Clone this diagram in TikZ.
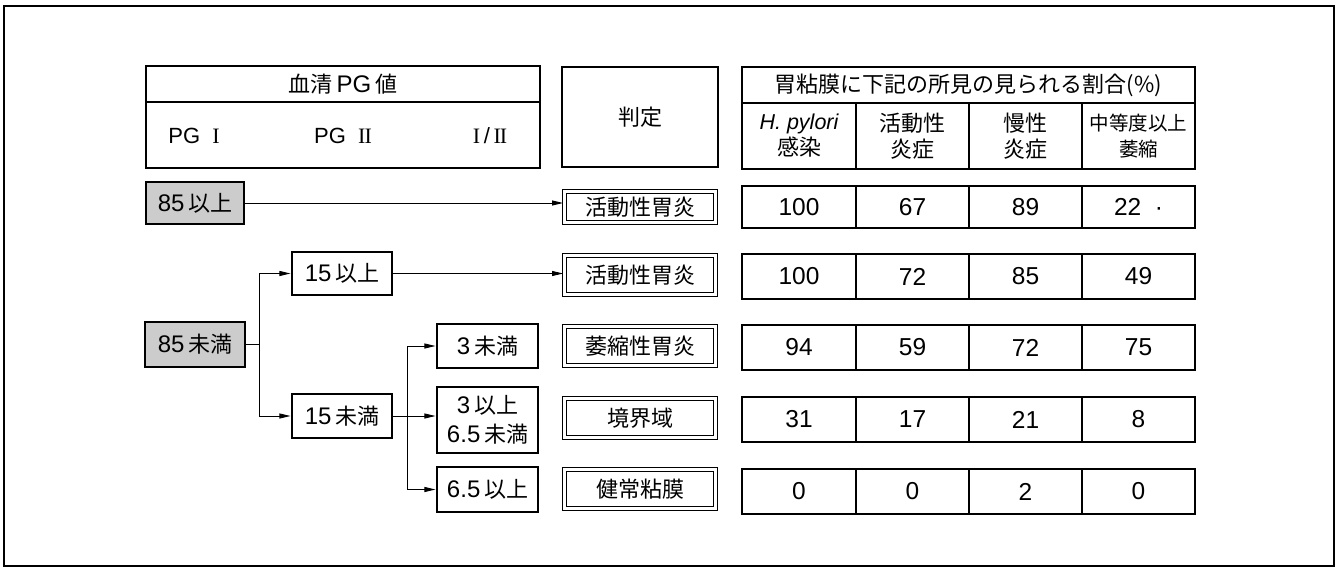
\documentclass[tikz,border=0pt]{standalone}
\usepackage{fontspec}
\setmainfont{Noto Sans CJK JP}
\newfontfamily\lat{Liberation Sans}
\newfontfamily\ser{Liberation Serif}
\usetikzlibrary{arrows.meta}
\newcommand\RomI{{\ser I}}
\newcommand\RomII{{\ser I\kern-1pt I}}
\newcommand\nm[1]{{\lat\fontsize{24}{27}\selectfont #1}}
\begin{document}
\begin{tikzpicture}[x=1pt,y=-1pt,
  every node/.style={inner sep=0pt, align=center, font=\fontsize{22}{27}\selectfont},
  box/.style={draw, line width=1.1pt},
  gbox/.style={box, fill=black!20},
  dbox/.style={draw, double, line width=0.9pt, double distance=2.4pt},
  cell/.style={draw, line width=1.1pt, minimum width=113pt, font=\lat\fontsize{24.5}{27}\selectfont},
  hdr/.style={font=\lat\fontsize{22}{26}\selectfont},
  arr/.style={line width=0.9pt, -{Triangle[length=11pt,width=5pt]}, shorten >=1pt},
  ln/.style={line width=0.9pt}
]
\useasboundingbox (0,0) rectangle (1343,572);
\draw[line width=1.1pt] (4,6) rectangle (1334,566);

% header: serum PG
\node[box, minimum width=394pt, minimum height=36pt] (hpg) at (343,84) {血清\,\nm{PG}\,値};
\node[box, minimum width=394pt, minimum height=66pt] (hpgs) at (343,135) {};
\node[hdr] (hpg1) at (194,136) {PG\ \ \RomI};
\node[hdr] (hpg2) at (343,136) {PG\ \ \RomII};
\node[hdr] (hpg3) at (490,136) {\RomI\,/\,\RomII};

% header: judgement
\node[box, minimum width=156pt, minimum height=100pt] (hj) at (640,117) {\raisebox{-4pt}{判定}};

% header: table
\node[box, minimum width=453pt, minimum height=36pt] (ht) at (968.5,85) {胃粘膜に下記の所見の見られる割合(\%)};
\node[cell, minimum width=114pt, minimum height=66pt, font=\fontsize{22}{26}\selectfont] (hc1) at (799,136) {{\lat\itshape\fontsize{21.5}{26}\selectfont H. pylori}\\感染};
\node[cell, minimum height=66pt, font=\fontsize{22}{26}\selectfont] (hc2) at (912.5,136) {活動性\\炎症};
\node[cell, minimum height=66pt, font=\fontsize{22}{26}\selectfont] (hc3) at (1025.5,136) {慢性\\炎症};
\node[cell, minimum height=66pt, font=\fontsize{19.5}{26}\selectfont] (hc4) at (1138.5,136) {中等度以上\\萎縮};

% left flow boxes
\node[gbox, minimum width=98pt, minimum height=42pt] (b85a) at (195,203) {\nm{85}\,以上};
\node[gbox, minimum width=100pt, minimum height=45pt] (b85b) at (195,344.5) {\nm{85}\,未満};
\node[box, minimum width=100pt, minimum height=43pt] (b15a) at (342,273.5) {\nm{15}\,以上};
\node[box, minimum width=100pt, minimum height=44pt] (b15b) at (342,416) {\nm{15}\,未満};
\node[box, minimum width=101pt, minimum height=44pt] (c3a) at (487.5,346) {\nm{3}\,未満};
\node[box, minimum width=101pt, minimum height=66pt, font=\fontsize{22}{29}\selectfont] (c3b) at (487.5,420) {\nm{3}\,以上\\\nm{6.5}\,未満};
\node[box, minimum width=101pt, minimum height=45pt] (c65) at (487.5,489.5) {\nm{6.5}\,以上};

% judgement boxes
\node[dbox, minimum width=151pt, minimum height=31pt] (j1) at (640,207) {活動性胃炎};
\node[dbox, minimum width=151pt, minimum height=39pt] (j2) at (640,275) {活動性胃炎};
\node[dbox, minimum width=151pt, minimum height=39pt] (j3) at (640,346) {萎縮性胃炎};
\node[dbox, minimum width=151pt, minimum height=39pt] (j4) at (640,418) {境界域};
\node[dbox, minimum width=151pt, minimum height=39pt] (j5) at (640,489) {健常粘膜};

% data rows
\foreach \r/\y/\h/\a/\b/\c/\d in {1/207/42/100/67/89/{22\ \ ·},2/276.5/45/100/72/85/49,3/347.5/45/94/59/72/75,4/419.5/45/31/17/21/8,5/491.5/45/0/0/2/0}{
  \node[cell, minimum width=114pt, minimum height=\h pt] (d\r-1) at (799,\y) {\a};
  \node[cell, minimum height=\h pt] (d\r-2) at (912.5,\y) {\b};
  \node[cell, minimum height=\h pt] (d\r-3) at (1025.5,\y) {\c};
  \node[cell, minimum height=\h pt] (d\r-4) at (1138.5,\y) {\d};
}

% connectors
\draw[arr] (b85a.east) -- (b85a.east -| j1.west);
\draw[ln] (b85b.east) -- ++(14,0) coordinate (k1);
\draw[arr] (k1) |- (b15a.west);
\draw[arr] (k1) |- (b15b.west);
\draw[arr] (b15a.east) -- (b15a.east -| j2.west);
\draw[arr] (b15b.east) -- (b15b.east -| c3b.west);
\path (b15b.east) ++(15,0) coordinate (k2);
\draw[arr] (k2) |- (c3a.west);
\draw[arr] (k2) |- (c65.west);
\end{tikzpicture}
\end{document}
